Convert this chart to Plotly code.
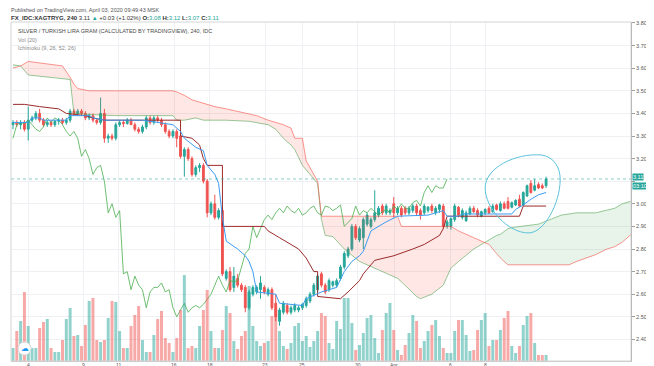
import plotly.graph_objects as go
import numpy as np

# ---------------- data ----------------
opens = [3.35, 3.36, 3.35, 3.36, 3.33, 3.37, 3.38, 3.40, 3.37, 3.35,
         3.36, 3.35, 3.365, 3.37, 3.36, 3.37, 3.41, 3.40, 3.41, 3.40,
         3.38, 3.39, 3.37, 3.36, 3.40, 3.29, 3.30, 3.29, 3.35, 3.36,
         3.355, 3.37, 3.35, 3.33, 3.32, 3.34, 3.38, 3.36, 3.38, 3.37,
         3.35, 3.32, 3.30, 3.32, 3.30, 3.21, 3.24, 3.20, 3.13, 3.16,
         3.17, 3.10, 2.96, 3.00, 2.94, 2.97, 2.67, 2.70, 2.63, 2.67,
         2.64, 2.63, 2.54, 2.60, 2.61, 2.62, 2.63, 2.60, 2.62, 2.56,
         2.48, 2.52, 2.55, 2.52, 2.53, 2.53, 2.54, 2.55, 2.57, 2.60,
         2.62, 2.69, 2.64, 2.62, 2.64, 2.64, 2.67, 2.72, 2.77, 2.80,
         2.90, 2.84, 2.85, 2.91, 2.90, 2.93, 2.95, 2.99, 2.96, 2.96,
         3.00, 2.96, 2.98, 2.98, 2.96, 2.97, 2.99, 2.97, 2.96, 2.97,
         2.99, 2.96, 2.975, 2.99, 2.90, 2.90, 2.93, 2.985, 2.94, 2.925,
         2.955, 2.98, 2.97, 2.945, 2.96, 2.98, 2.965, 2.995, 2.97, 3.00,
         3.01, 2.985, 2.995, 3.02, 2.995, 3.035, 3.09, 3.06, 3.085, 3.08,
         3.08]
highs = [3.37, 3.37, 3.37, 3.37, 3.43, 3.39, 3.41, 3.42, 3.38, 3.37,
         3.37, 3.37, 3.38, 3.38, 3.38, 3.42, 3.42, 3.42, 3.42, 3.41,
         3.40, 3.40, 3.38, 3.47, 3.42, 3.31, 3.31, 3.36, 3.37, 3.37,
         3.38, 3.38, 3.36, 3.34, 3.35, 3.39, 3.39, 3.39, 3.39, 3.38,
         3.36, 3.33, 3.33, 3.33, 3.31, 3.25, 3.25, 3.21, 3.17, 3.18,
         3.18, 3.11, 3.01, 3.04, 2.98, 2.99, 2.71, 2.72, 2.72, 2.69,
         2.65, 2.64, 2.62, 2.64, 2.64, 2.68, 2.64, 2.63, 2.63, 2.60,
         2.54, 2.57, 2.56, 2.55, 2.56, 2.55, 2.56, 2.59, 2.61, 2.65,
         2.69, 2.70, 2.65, 2.67, 2.66, 2.67, 2.73, 2.79, 2.81, 2.91,
         2.91, 2.90, 2.94, 2.96, 2.94, 3.06, 2.99, 3.00, 3.00, 2.98,
         3.03, 2.99, 2.99, 2.99, 2.99, 3.00, 3.00, 2.98, 3.00, 2.99,
         3.00, 2.99, 3.00, 3.00, 2.93, 2.94, 3.00, 2.99, 2.98, 2.97,
         2.99, 2.99, 2.98, 2.97, 2.98, 2.99, 3.00, 3.00, 3.01, 3.01,
         3.03, 3.01, 3.02, 3.04, 3.055, 3.085, 3.105, 3.11, 3.095, 3.09,
         3.12]
lows = [3.33, 3.34, 3.33, 3.32, 3.28, 3.36, 3.37, 3.36, 3.34, 3.34,
        3.34, 3.34, 3.35, 3.35, 3.35, 3.36, 3.39, 3.39, 3.39, 3.37,
        3.37, 3.36, 3.35, 3.35, 3.27, 3.27, 3.28, 3.28, 3.34, 3.34,
        3.35, 3.35, 3.32, 3.31, 3.31, 3.33, 3.35, 3.35, 3.36, 3.34,
        3.31, 3.29, 3.29, 3.25, 3.20, 3.12, 3.19, 3.12, 3.12, 3.14,
        3.09, 2.94, 2.95, 2.93, 2.93, 2.68, 2.66, 2.61, 2.61, 2.63,
        2.61, 2.52, 2.53, 2.59, 2.60, 2.58, 2.60, 2.59, 2.53, 2.48,
        2.46, 2.51, 2.51, 2.51, 2.52, 2.52, 2.53, 2.54, 2.56, 2.59,
        2.61, 2.63, 2.60, 2.61, 2.63, 2.63, 2.66, 2.71, 2.76, 2.79,
        2.84, 2.83, 2.80, 2.90, 2.89, 2.92, 2.94, 2.95, 2.95, 2.95,
        2.94, 2.95, 2.94, 2.95, 2.95, 2.96, 2.95, 2.93, 2.95, 2.96,
        2.96, 2.95, 2.96, 2.89, 2.89, 2.885, 2.92, 2.94, 2.93, 2.92,
        2.95, 2.96, 2.94, 2.94, 2.95, 2.955, 2.96, 2.97, 2.965, 2.975,
        2.975, 2.98, 2.99, 2.985, 2.99, 3.03, 3.045, 3.055, 3.065, 3.065,
        3.07]
closes = [3.36, 3.35, 3.36, 3.33, 3.37, 3.38, 3.40, 3.37, 3.35, 3.36,
          3.35, 3.365, 3.37, 3.36, 3.37, 3.41, 3.40, 3.41, 3.40, 3.38,
          3.39, 3.37, 3.36, 3.40, 3.29, 3.30, 3.29, 3.35, 3.36, 3.355,
          3.37, 3.35, 3.33, 3.32, 3.34, 3.38, 3.36, 3.38, 3.37, 3.35,
          3.32, 3.30, 3.32, 3.29, 3.21, 3.24, 3.20, 3.13, 3.16, 3.17,
          3.10, 2.96, 3.00, 2.94, 2.97, 2.69, 2.70, 2.62, 2.68, 2.64,
          2.62, 2.54, 2.61, 2.63, 2.63, 2.65, 2.61, 2.62, 2.54, 2.50,
          2.53, 2.56, 2.52, 2.54, 2.55, 2.54, 2.555, 2.58, 2.60, 2.64,
          2.68, 2.64, 2.61, 2.66, 2.655, 2.66, 2.72, 2.78, 2.80, 2.90,
          2.85, 2.89, 2.93, 2.95, 2.93, 2.96, 2.98, 2.96, 2.99, 2.97,
          2.96, 2.98, 2.95, 2.96, 2.98, 2.99, 2.96, 2.95, 2.99, 2.985,
          2.97, 2.98, 2.995, 2.90, 2.92, 2.935, 2.99, 2.95, 2.97, 2.96,
          2.98, 2.965, 2.95, 2.965, 2.975, 2.96, 2.99, 2.975, 3.00, 2.98,
          2.98, 3.005, 3.015, 2.99, 3.05, 3.08, 3.05, 3.08, 3.07, 3.07,
          3.11]
volumes = [13, 30, 40, 69, 35, 13, 13, 33, 39, 42, 13, 9, 9, 21, 42, 53, 25, 26, 15, 36,
           60, 63, 21, 19, 21, 43, 60, 59,
           30, 13, 13, 35, 46, 55, 21, 9, 9, 26, 42, 50, 23, 18, 9, 23, 51, 86, 13, 15,
           13, 35, 51, 71, 30, 13, 13, 31,
           55, 48, 20, 12, 25, 30, 75, 35, 20, 15, 18, 20, 45, 52, 30, 15, 12, 18, 35, 38,
           20, 25, 14, 20, 30, 48, 45, 18, 12,
           40, 32, 63, 63, 38, 11, 16, 28, 43, 46, 23, 8, 31, 48, 58, 31, 11, 6, 16, 28,
           46, 40, 13, 20, 30, 36, 41, 25,
           13, 8, 8, 30, 41, 41, 26, 10, 11, 31, 41, 48, 15, 21, 21, 31, 43, 50, 15, 8,
           15, 36, 45, 48, 18, 6, 6, 6]

# Ichimoku (9, 26, 52, 26) lines, read at bar positions
tenkan_idx = [0, 4, 5, 7, 8, 14, 15, 20, 21, 24, 34, 38, 42, 44, 45, 48, 50, 51, 53, 54,
              55, 56, 59, 61, 62, 63, 64, 69, 70, 76, 77, 81, 85, 87, 89, 91, 92, 94, 98, 101,
              109, 113, 114, 117, 118, 131, 132, 134, 136, 138, 140]
tenkan_val = [3.36, 3.36, 3.38, 3.38, 3.37, 3.37, 3.39, 3.39, 3.38, 3.37, 3.37, 3.36, 3.35, 3.32, 3.29, 3.25, 3.235, 3.17, 3.13, 3.09,
              2.94, 2.835, 2.80, 2.77, 2.745, 2.70, 2.61, 2.60, 2.56, 2.55, 2.58, 2.61, 2.63, 2.70, 2.745, 2.77, 2.79, 2.88, 2.92, 2.945,
              2.95, 2.97, 2.945, 2.945, 2.955, 2.955, 2.975, 2.995, 3.02, 3.04, 3.05]
kijun_idx = [0, 3, 7, 12, 14, 19, 21, 24, 44, 44, 47, 49, 50, 51, 55, 55, 66, 67, 70, 72,
             75, 77, 79, 80, 80, 86, 88, 91, 92, 95, 100, 105, 108, 112, 113, 114, 133, 134, 140]
kijun_val = [3.44, 3.44, 3.43, 3.42, 3.40, 3.39, 3.38, 3.37, 3.37, 3.30, 3.29, 3.26, 3.20, 3.17, 3.17, 2.90, 2.90, 2.88, 2.85, 2.83,
             2.80, 2.76, 2.70, 2.70, 2.59, 2.58, 2.61, 2.66, 2.69, 2.75, 2.77, 2.80, 2.82, 2.86, 2.89, 2.945, 2.945, 2.99, 2.99]
cloud_idx = [0, 2, 4, 9, 13, 15, 16, 17, 20, 27, 42, 43, 45, 47, 48, 50, 53, 56, 62, 64,
             67, 69, 71, 73, 74, 76, 77, 80, 81, 82, 84, 87, 91, 95, 101, 102, 106, 107, 110, 113,
             115, 116, 117, 121, 124, 125, 127, 128, 130, 131, 138, 144, 146, 148, 153, 156, 158, 160, 162, 166]
span_a = [3.615, 3.61, 3.57, 3.56, 3.555, 3.55, 3.40, 3.40, 3.395, 3.39, 3.39, 3.37, 3.37, 3.375, 3.38, 3.37, 3.37, 3.37, 3.365, 3.36,
          3.35, 3.33, 3.29, 3.26, 3.24, 3.17, 3.15, 3.09, 2.93, 2.86, 2.855, 2.80, 2.745, 2.715, 2.67, 2.655, 2.59, 2.58, 2.60, 2.64,
          2.715, 2.73, 2.745, 2.80, 2.83, 2.84, 2.86, 2.865, 2.89, 2.895, 2.91, 2.95, 2.955, 2.96, 2.96, 2.97, 2.98, 3.00, 3.01, 3.02]
span_b = [3.60, 3.61, 3.63, 3.62, 3.61, 3.56, 3.53, 3.51, 3.50, 3.50, 3.50, 3.495, 3.48, 3.46, 3.455, 3.445, 3.43, 3.42, 3.40, 3.39,
          3.37, 3.36, 3.35, 3.335, 3.29, 3.29, 3.19, 3.10, 2.945, 2.945, 2.945, 2.945, 2.945, 2.945, 2.945, 2.90, 2.90, 2.90, 2.90, 2.90,
          2.90, 2.89, 2.88, 2.85, 2.83, 2.82, 2.78, 2.76, 2.73, 2.73, 2.73, 2.73, 2.73, 2.745, 2.775, 2.80, 2.81, 2.83, 2.86, 2.88]
displacement = 26

tick_pos = [4.1, 18.4, 27.8, 42.3, 51.7, 66.2, 75.9, 90.6, 100.1, 114.8, 124.2]
tick_text = ["4", "9", "11", "16", "18", "23", "25", "30", "Apr", "6", "8"]
price_ticks = [2.30, 2.40, 2.50, 2.60, 2.70, 2.80, 2.90, 3.00, 3.10, 3.20, 3.30, 3.40, 3.50, 3.60, 3.70, 3.80]

# ---------------- styling ----------------
UP = "#26a69a"
DN = "#ef5350"
FONT = "Liberation Sans"
W, H = 654, 366
ML, MR, MT, MB = 3, 31, 14, 13
PW, PH = W - ML - MR, H - MT - MB

def px(x):
    return (x - ML) / PW

def py(y):
    return (H - MB - y) / PH

bars = list(range(len(closes)))
last = closes[-1]

# cloud polygons (insert crossing points between spans)
cx, ca, cb = [], [], []
for k in range(len(cloud_idx)):
    if k > 0:
        d0 = span_a[k - 1] - span_b[k - 1]
        d1 = span_a[k] - span_b[k]
        if d0 * d1 < 0:
            t = d0 / (d0 - d1)
            xc = cloud_idx[k - 1] + t * (cloud_idx[k] - cloud_idx[k - 1])
            vc = span_a[k - 1] + t * (span_a[k] - span_a[k - 1])
            cx.append(xc); ca.append(vc); cb.append(vc)
    cx.append(cloud_idx[k]); ca.append(span_a[k]); cb.append(span_b[k])
lo = list(np.minimum(ca, cb))

fig = go.Figure()

fig.add_trace(go.Scatter(x=cx + cx[::-1], y=cb + lo[::-1], fill="toself",
                         fillcolor="rgba(244,67,54,0.13)", line=dict(width=0),
                         mode="lines", hoverinfo="skip"))
fig.add_trace(go.Scatter(x=cx + cx[::-1], y=ca + lo[::-1], fill="toself",
                         fillcolor="rgba(67,160,71,0.12)", line=dict(width=0),
                         mode="lines", hoverinfo="skip"))

# volume
vol_colors = ["rgba(38,166,154,0.5)" if c >= o else "rgba(239,83,80,0.5)"
              for o, c in zip(opens, closes)]
fig.add_trace(go.Bar(x=bars, y=volumes, marker=dict(color=vol_colors, line=dict(width=0)),
                     width=0.78, yaxis="y2", hoverinfo="skip"))

# ichimoku lines
fig.add_trace(go.Scatter(x=cloud_idx, y=span_a, mode="lines",
                         line=dict(color="rgba(67,160,71,0.55)", width=1)))
fig.add_trace(go.Scatter(x=cloud_idx, y=span_b, mode="lines",
                         line=dict(color="rgba(244,67,54,0.55)", width=1)))
fig.add_trace(go.Scatter(x=[b - displacement for b in bars[displacement:]],
                         y=closes[displacement:], mode="lines",
                         line=dict(color="rgba(76,175,80,0.8)", width=1)))
fig.add_trace(go.Scatter(x=kijun_idx, y=kijun_val, mode="lines",
                         line=dict(color="#9c2a2a", width=1)))
fig.add_trace(go.Scatter(x=tenkan_idx, y=tenkan_val, mode="lines",
                         line=dict(color="#3d9bf0", width=1)))

# candles
fig.add_trace(go.Candlestick(x=bars, open=opens, high=highs, low=lows, close=closes,
                             increasing=dict(line=dict(color=UP, width=1), fillcolor=UP),
                             decreasing=dict(line=dict(color=DN, width=1), fillcolor=DN),
                             whiskerwidth=0, hoverinfo="skip"))

# hand-drawn loop around the last candles (drawing, in chart coordinates)
loop_path = ("M 124.0,3.07 C 124.0,3.16 132.0,3.225 138.7,3.216 "
             "C 142.0,3.21 143.8,3.16 143.7,3.105 "
             "C 143.6,3.00 139.5,2.87 135.3,2.871 "
             "C 130.0,2.872 124.0,2.98 124.0,3.07 Z")
shapes = [
    dict(type="line", xref="paper", yref="y", x0=0, x1=1, y0=last, y1=last,
         line=dict(color="rgba(38,166,154,0.55)", width=1, dash="dot")),
    dict(type="rect", xref="paper", yref="paper", x0=0, x1=1, y0=0, y1=1,
         line=dict(color="#d4d4d4", width=1)),
    dict(type="path", xref="x", yref="y", path=loop_path,
         line=dict(color="#5cc3dc", width=1)),
    dict(type="circle", xref="paper", yref="paper", x0=px(10), x1=px(23), y0=py(347), y1=py(334),
         fillcolor="white", line=dict(color="#d8d8d8", width=1)),
]

ann = []
ann.append(dict(xref="paper", yref="paper", x=px(1), y=py(2.5), xanchor="left", yanchor="middle",
                text="Published on TradingView.com, April 03, 2020 09:49:43 MSK", showarrow=False,
                font=dict(family=FONT, size=5.5, color="#555555")))
ann.append(dict(xref="paper", yref="paper", x=px(1), y=py(9.5), xanchor="left", yanchor="middle",
                text=("<b>FX_IDC:XAGTRYG, 240</b> 3.11 <span style='color:#26a69a'>\u25b2</span> +0.03 (+1.02%) "
                      "<b>O:</b><span style='color:#26a69a'>3.08</span> <b>H:</b><span style='color:#26a69a'>3.12</span> "
                      "<b>L:</b><span style='color:#26a69a'>3.07</span> <b>C:</b><span style='color:#26a69a'>3.11</span>"),
                showarrow=False, font=dict(family=FONT, size=6, color="#333333")))
ann.append(dict(xref="paper", yref="paper", x=px(8), y=py(23), xanchor="left", yanchor="middle",
                text="SILVER / TURKISH LIRA GRAM (CALCULATED BY TRADINGVIEW), 240, IDC", showarrow=False,
                font=dict(family=FONT, size=5.5, color="#4a4a4a")))
ann.append(dict(xref="paper", yref="paper", x=px(8), y=py(31.5), xanchor="left", yanchor="middle",
                text="Vol (20)", showarrow=False, font=dict(family=FONT, size=5.5, color="#8a8a8a")))
ann.append(dict(xref="paper", yref="paper", x=px(8), y=py(40), xanchor="left", yanchor="middle",
                text="Ichimoku (9, 26, 52, 26)", showarrow=False, font=dict(family=FONT, size=5.5, color="#8a8a8a")))
ann.append(dict(xref="paper", yref="y", x=1, y=last, xanchor="left", yanchor="middle", xshift=1, yshift=1.5,
                text="3.11", showarrow=False, bgcolor=UP, borderpad=0,
                font=dict(family=FONT, size=5.5, color="white")))
ann.append(dict(xref="paper", yref="y", x=1, y=last, xanchor="left", yanchor="middle", xshift=1, yshift=-7.5,
                text="03:10:19", showarrow=False, bgcolor=UP, borderpad=0,
                font=dict(family=FONT, size=5.5, color="white")))
ann.append(dict(xref="paper", yref="paper", x=px(16.5), y=py(340.5), xanchor="center", yanchor="middle",
                text="\u2601", showarrow=False, font=dict(family="DejaVu Sans", size=8, color="#2196f3")))
# time-scale labels (just under the pane, as in the reference)
for tp, tt in zip(tick_pos, tick_text):
    ann.append(dict(xref="x", yref="paper", x=tp, y=py(357.0), xanchor="center", yanchor="middle",
                    text=tt, showarrow=False, borderpad=0,
                    font=dict(family=FONT, size=5, color="#555555")))

fig.update_layout(
    width=W, height=H,
    margin=dict(l=ML, r=MR, t=MT, b=MB),
    paper_bgcolor="white", plot_bgcolor="white",
    showlegend=False, boxgap=0.32,
    font=dict(family=FONT, size=5.5, color="#555555"),
    xaxis=dict(range=[-0.525, 162.3], tickvals=tick_pos, showticklabels=False,
               showgrid=True, gridcolor="#eef0f3", gridwidth=1, zeroline=False,
               showline=True, linecolor="#c8c8c8", ticks="",
               rangeslider=dict(visible=False)),
    yaxis=dict(range=[3.80 - (H - MB - 15) / 226.0, 3.8044], side="right", tickvals=price_ticks,
               ticktext=["" if abs(v - last) < 0.05 else "%.2f" % v for v in price_ticks],
               showgrid=True, gridcolor="#eef0f3", zeroline=False,
               showline=True, linecolor="#a0a0a0", ticks="outside", ticklen=3,
               tickcolor="#a0a0a0", tickfont=dict(size=5.5, color="#555555")),
    yaxis2=dict(overlaying="y", range=[0, PH], visible=False),
    shapes=shapes, annotations=ann,
)

fig.write_html("out.html")
